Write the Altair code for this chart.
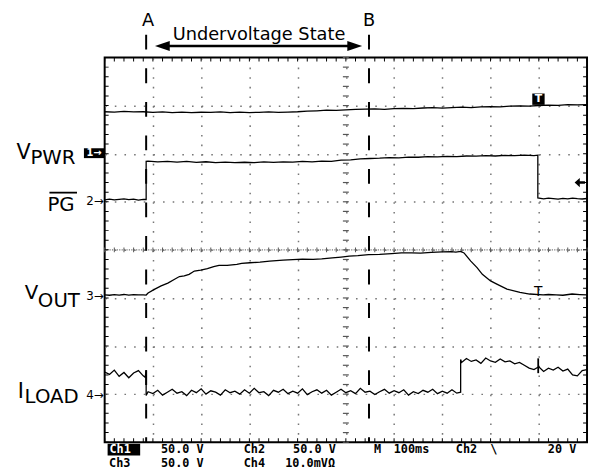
import altair as alt
import pandas as pd

# ---------------- scope setup ----------------
# time base 100 ms/div, 10 divisions -> 0..1000 ms ; 8 vertical divisions
channels = ["VPWR", "PG", "VOUT", "ILOAD"]
offsets = [6.0, 5.0, 3.0, 1.0]          # ground-marker position (div)
scales = [50.0, 50.0, 50.0, 10.0]       # units per division

vpwr_t = list(range(0, 1001, 20))
vpwr_v = [43.6, 43.2, 43.9, 43.4, 43.6,
          43.0, 43.5, 42.8, 43.3, 42.6, 43.1, 42.9, 43.4, 42.7, 43.2, 42.8,
          43.0, 43.4, 42.9, 43.3, 43.6, 44.2, 44.6, 45.2, 45.0, 45.6, 46.1, 46.4,
          46.5, 46.0, 46.8, 47.2, 46.9, 47.5, 47.8, 47.3, 48.0, 48.4, 47.9, 48.6,
          49.0, 48.7, 49.4, 49.8, 49.5, 50.1,
          50.6, 50.2, 51.0, 50.7, 51.1]

pg_t = [0, 10, 20, 30, 40, 50, 60, 70, 80, 86, 86] + list(range(90, 891, 20)) \
       + [898, 898] + list(range(910, 1001, 10))
pg_v = [2.0, 2.8, 1.9, 2.6, 3.0, 2.2, 2.7, 1.8, 2.5, 2.4, 42.0,
        42.3, 41.5, 42.0, 41.2, 41.9, 41.0, 41.6, 40.8, 41.3, 40.6,
        41.1, 40.7, 41.4, 40.9, 41.6, 41.2, 41.9, 41.5, 42.3, 42.0,
        43.2, 43.6, 44.5, 45.0, 45.3, 46.0, 45.7, 46.5, 46.3, 46.9,
        46.6, 47.3, 47.0, 47.6, 47.4, 47.9, 47.6, 48.2, 47.9, 48.4, 48.1,
        48.5, 4.0,
        3.0, 3.8, 3.2, 2.7, 3.6, 3.1, 3.9, 3.3, 2.9, 3.4]

vout_t = [0, 10, 20, 30, 40, 50, 60, 70, 80, 86,
          90, 104, 117, 131, 145, 155, 165, 175, 186, 199, 213, 226, 237, 254, 274,
          284, 301, 322, 342, 370,
          390, 410, 432, 450, 472, 490, 507, 525, 547, 570, 595, 615, 636, 655, 677,
          700, 718, 728, 738,
          745, 759, 772, 783, 800, 813, 834, 861, 881, 909, 920, 936, 950, 969, 985, 1000]
vout_v = [3.3, 2.8, 3.5, 3.0, 3.6, 2.9, 3.4, 3.1, 3.2, 3.0,
          5.1, 9.2, 12.6, 15.4, 19.5, 22.3, 22.9, 24.6, 28.0, 29.0, 30.5, 32.5, 33.8, 33.8, 34.9,
          35.9, 36.6, 37.2, 38.3, 39.3,
          39.8, 40.4, 40.0, 40.6, 41.7, 42.5, 43.4, 44.0, 45.1, 45.2, 46.2, 46.8, 46.8, 46.5, 47.5,
          47.9, 48.2, 47.6, 48.5,
          46.8, 38.3, 31.5, 24.6, 17.7, 14.4, 9.2, 5.8, 4.1, 3.1, 3.6, 3.1, 2.8, 4.1, 3.5, 3.1]

iload_t = list(range(0, 81, 10)) + [84, 86, 86] + list(range(90, 731, 10)) \
          + [738, 738] + list(range(740, 1001, 10))
iload_v = [4.6, 4.1, 5.0, 3.7, 4.5, 3.4, 4.4, 4.9, 3.8,
           3.5, 5.0, -0.3,
           0.5, 0.1, 0.8, -0.2, 0.4, 1.0, 0.2, 0.5, -0.3, 0.8,
           0.3, 1.1, 0.0, 0.7, 0.4, -0.2, 0.9, 0.3, 0.6, 0.0,
           0.9, 0.2, 1.2, 0.3, 0.5, -0.3, 0.8, 0.4, 1.0, 0.1,
           0.6, 0.2, 1.1, -0.1, 0.5, 0.9, 0.2, 0.8, -0.2, 0.4,
           1.0, 0.3, 0.7, 0.1, 1.2, 0.4, 0.6, -0.1, 0.5, 1.0,
           0.2, 0.7, 0.3, 0.9, -0.2, 0.5, 0.1, 0.8, 0.4, 1.0,
           0.1, 0.6, 0.2, 0.9, 0.2,
           0.4, 7.2,
           6.6, 7.4, 6.8, 7.1, 6.4, 7.5, 6.9, 6.6, 7.3, 6.7,
           6.9, 6.3, 6.6, 6.0, 5.4, 5.1, 5.7, 4.7, 5.4, 5.0,
           5.6, 4.8, 5.2, 4.0, 3.8, 4.9, 5.1]

series = [(vpwr_t, vpwr_v), (pg_t, pg_v), (vout_t, vout_v), (iload_t, iload_v)]
rows = []
for name, off, sc, (ts, vs) in zip(channels, offsets, scales, series):
    for i, (t, v) in enumerate(zip(ts, vs)):
        rows.append({"ch": name, "t": t, "y": off + v / sc, "i": i})
traces_df = pd.DataFrame(rows)

# ---------------- scales / axes ----------------
XS = alt.Scale(domain=[0, 1000], nice=False, zero=False)
YS = alt.Scale(domain=[0, 8], nice=False, zero=False)
XA = alt.Axis(values=list(range(100, 1000, 100)), grid=True, labels=False, ticks=False,
              domain=False, title=None, gridDash=[1.6, 8.15], gridColor="#777", gridWidth=1.5)
YA = alt.Axis(values=[1, 2, 3, 4, 5, 6, 7], grid=True, labels=False, ticks=False,
              domain=False, title=None, gridDash=[1.6, 8.18], gridColor="#777", gridWidth=1.5)


def X(f="t"):
    return alt.X(f"{f}:Q", scale=XS, axis=XA)


def Y(f="y"):
    return alt.Y(f"{f}:Q", scale=YS, axis=YA)


# ---------------- graticule decorations ----------------
tb = pd.DataFrame([{"t": t, "y": yy} for t in range(0, 1001, 20) for yy in (0, 8)])
lr = pd.DataFrame([{"t": tt, "y": k * 0.2} for k in range(41) for tt in (0, 1000)])
ch_ticks = pd.DataFrame({"t": list(range(0, 1001, 20)), "y": 4.0})
cv_ticks = pd.DataFrame({"t": 500, "y": [k * 0.2 for k in range(41)]})

ticks_tb = alt.Chart(tb).mark_tick(orient="vertical", size=8, thickness=1, color="black",
                                   clip=True, opacity=1).encode(x=X(), y=Y())
ticks_lr = alt.Chart(lr).mark_tick(orient="horizontal", size=8, thickness=1, color="black",
                                   clip=True, opacity=1).encode(x=X(), y=Y())
center_line = alt.Chart(pd.DataFrame({"t": [0], "t2": [1000], "y": [4.0]})).mark_rule(
    strokeDash=[1.2, 1.25], color="#777", strokeWidth=1.2).encode(x=X(), x2="t2:Q", y=Y())
center_ht = alt.Chart(ch_ticks).mark_tick(orient="vertical", size=5, thickness=1,
                                          color="#555", opacity=1).encode(x=X(), y=Y())
center_vt = alt.Chart(cv_ticks).mark_tick(orient="horizontal", size=6, thickness=1.2,
                                          color="#555", opacity=1).encode(x=X(), y=Y())

# ---------------- cursors A / B ----------------
cursor_df = pd.DataFrame({"t": [86, 548], "y": [8.472, 8.472], "y2": [0, 0]})
cursors = alt.Chart(cursor_df).mark_rule(strokeDash=[15, 19], strokeWidth=2, color="black").encode(
    x=X(), y=Y(), y2="y2:Q")

traces = alt.Chart(traces_df).mark_line(color="black", strokeWidth=1.3).encode(
    x=X(), y=Y(), detail="ch:N", order="i:Q")

# ---------------- arrow ----------------
arrow_line = alt.Chart(pd.DataFrame({"t": [121], "t2": [519], "y": [8.24]})).mark_rule(
    strokeWidth=2.5, color="black").encode(x=X(), x2="t2:Q", y=Y())
head_l = alt.Chart(pd.DataFrame({"t": [119.6], "y": [8.24]})).mark_point(
    shape="M-1,0L1,-0.667L1,0.667Z", size=225, filled=True, color="black", opacity=1).encode(x=X(), y=Y())
head_r = alt.Chart(pd.DataFrame({"t": [518.4], "y": [8.24]})).mark_point(
    shape="M1,0L-1,-0.667L-1,0.667Z", size=225, filled=True, color="black", opacity=1).encode(x=X(), y=Y())
trig_lvl = alt.Chart(pd.DataFrame({"t": [985.0], "y": [5.40]})).mark_point(
    shape="M-1,0L0,-0.9L0,-0.25L1,-0.25L1,0.25L0,0.25L0,0.9Z", size=110, filled=True,
    color="black", opacity=1).encode(x=X(), y=Y())

# ---------------- boxes & small rules ----------------
rect_df = pd.DataFrame({"t": [-43, 886.5, 6.1], "t2": [-1, 912.1, 73.6],
                        "y": [5.908, 7.015, -0.277], "y2": [6.113, 7.251, -0.031]})
rects = alt.Chart(rect_df).mark_rect(color="black").encode(x=X(), x2="t2:Q", y=Y(), y2="y2:Q")
rule_df = pd.DataFrame({"t": [-114.5, 898.8], "t2": [-57.3, 898.8], "y": [5.19, 1.744], "y2": [5.19, 1.436]})
small_rules = alt.Chart(rule_df).mark_rule(color="black", strokeWidth=1.8).encode(
    x=X(), x2="t2:Q", y=Y(), y2="y2:Q")

# ---------------- texts ----------------
lab_left = pd.DataFrame([
    {"txt": "Undervoltage State", "t": 141.0, "y": 8.369, "s": 18},
    {"txt": "V", "t": -182.6, "y": 5.887, "s": 21},
    {"txt": "PWR", "t": -154.0, "y": 5.785, "s": 20},
    {"txt": "PG", "t": -118.6, "y": 4.806, "s": 20},
    {"txt": "V", "t": -165.6, "y": 2.974, "s": 20},
    {"txt": "OUT", "t": -138.5, "y": 2.810, "s": 20},
    {"txt": "I", "t": -180.0, "y": 0.923, "s": 21},
    {"txt": "LOAD", "t": -166.0, "y": 0.8205, "s": 20},
])
lab_center = pd.DataFrame([
    {"txt": "A", "t": 90.0, "y": 8.656, "s": 18},
    {"txt": "B", "t": 548.0, "y": 8.656, "s": 18},
    {"txt": "T", "t": 898.8, "y": 3.036, "s": 14},
])
lab_marks = pd.DataFrame([
    {"txt": "2\u2192", "t": -2.0, "y": 5.005, "s": 12},
    {"txt": "3\u2192", "t": -2.0, "y": 3.036, "s": 12},
    {"txt": "4\u2192", "t": -2.0, "y": 0.991, "s": 12},
])
lab_white = pd.DataFrame([
    {"txt": "1\u2192", "t": -22.0, "y": 6.01, "s": 10},
    {"txt": "T", "t": 899.3, "y": 7.133, "s": 11},
])
r1, r2 = -0.150, -0.425
lab_mono = pd.DataFrame([
    {"txt": "50.0 V", "t": 116.6, "y": r1},
    {"txt": "Ch2", "t": 288.3, "y": r1},
    {"txt": "50.0 V", "t": 390.6, "y": r1},
    {"txt": "M", "t": 558.3, "y": r1},
    {"txt": "100ms", "t": 599.2, "y": r1},
    {"txt": "Ch2", "t": 728.0, "y": r1},
    {"txt": "\\", "t": 799.6, "y": r1},
    {"txt": "20 V", "t": 918.8, "y": r1},
    {"txt": "Ch3", "t": 9.2, "y": r2},
    {"txt": "50.0 V", "t": 116.6, "y": r2},
    {"txt": "Ch4", "t": 288.3, "y": r2},
    {"txt": "10.0mV\u03a9", "t": 374.2, "y": r2},
])
lab_mono_w = pd.DataFrame([{"txt": "Ch1", "t": 10.0, "y": r1}])

S = alt.Size("s:Q", scale=None, legend=None)
t_left = alt.Chart(lab_left).mark_text(align="left", baseline="alphabetic", font="DejaVu Sans",
                                       color="black").encode(x=X(), y=Y(), text="txt:N", size=S)
t_center = alt.Chart(lab_center).mark_text(align="center", baseline="alphabetic", font="DejaVu Sans",
                                           color="black").encode(x=X(), y=Y(), text="txt:N", size=S)
t_marks = alt.Chart(lab_marks).mark_text(align="right", baseline="middle", font="DejaVu Sans",
                                         color="black").encode(x=X(), y=Y(), text="txt:N", size=S)
t_white = alt.Chart(lab_white).mark_text(align="center", baseline="middle", font="DejaVu Sans",
                                         fontWeight="bold", color="white").encode(
    x=X(), y=Y(), text="txt:N", size=S)
t_mono = alt.Chart(lab_mono).mark_text(align="left", baseline="middle", font="DejaVu Sans Mono",
                                       fontSize=12, fontWeight="bold", color="black").encode(
    x=X(), y=Y(), text="txt:N")
t_mono_w = alt.Chart(lab_mono_w).mark_text(align="left", baseline="middle", font="DejaVu Sans Mono",
                                           fontSize=12, fontWeight="bold", color="white").encode(
    x=X(), y=Y(), text="txt:N")

chart = alt.layer(
    center_line, center_ht, center_vt, ticks_tb, ticks_lr,
    cursors, traces, arrow_line, head_l, head_r, trig_lvl,
    rects, small_rules,
    t_left, t_center, t_marks, t_white, t_mono, t_mono_w,
).properties(
    width=489, height=390,
    padding={"left": 98, "top": 47, "right": 2, "bottom": 27},
    autosize=alt.AutoSizeParams(type="none"),
    background="white",
).configure_view(stroke="black", strokeWidth=2)

chart.save("out.html", embed_options={"renderer": "svg", "actions": False})
